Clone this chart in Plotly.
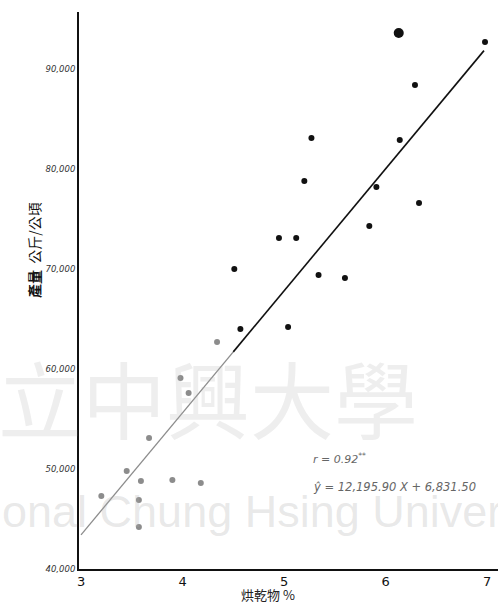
import plotly.graph_objects as go

# Dry matter (%) and yield (kg/ha) for each sample
dry_matter = [3.20, 3.45, 3.57, 3.57, 3.59, 3.67, 3.90, 3.98, 4.06, 4.18, 4.34,
              4.57, 4.51, 5.04, 4.95, 5.12, 5.20, 5.27, 5.34, 5.60, 5.84, 5.91,
              6.14, 6.13, 6.29, 6.33, 6.98]
yield_kg = [47300, 49800, 46900, 44200, 48800, 53100, 48900, 59100, 57600, 48600, 62700,
            64000, 70000, 64200, 73100, 73100, 78800, 83100, 69400, 69100, 74300, 78200,
            82900, 93600, 88400, 76600, 92700]

# Regression fit
slope = 12195.90
intercept = 6831.50
r_value = 0.92

y_ticks = [40000, 50000, 60000, 70000, 80000, 90000]
y_tick_text = ["40,000", "50,000", "60,000", "70,000", "80,000", "90,000"]
x_ticks = [3, 4, 5, 6, 7]

faded = "#8c8c8c"
ink = "#111111"


def px_x(p):
    """Horizontal pixel -> paper coordinate."""
    return (p - 79) / 419


def px_y(p):
    """Vertical pixel -> paper coordinate."""
    return (569 - p) / 557


fig = go.Figure()

# library watermark (very light)
fig.add_annotation(text="立中興大學", xref="paper", yref="paper",
                   x=px_x(-4), y=px_y(396), xanchor="left", yanchor="middle",
                   showarrow=False, font=dict(family="Noto Sans CJK TC", size=84,
                                              color="rgba(170,170,170,0.2)"))
fig.add_annotation(text="onal Chung Hsing Univer", xref="paper", yref="paper",
                   x=px_x(0), y=px_y(511), xanchor="left", yanchor="middle",
                   showarrow=False, font=dict(family="Liberation Sans", size=45,
                                              color="rgba(170,170,170,0.27)"))

# regression line: faded lower part, dark upper part
x_break = 4.5
x_end = 6.97
fig.add_trace(go.Scatter(x=[3, x_break], y=[slope * 3 + intercept, slope * x_break + intercept],
                         mode="lines", line=dict(color=faded, width=1.3), hoverinfo="skip"))
fig.add_trace(go.Scatter(x=[x_break, x_end], y=[slope * x_break + intercept, slope * x_end + intercept],
                         mode="lines", line=dict(color=ink, width=1.6), hoverinfo="skip"))

colors = [faded if x < x_break and y < 63500 else ink for x, y in zip(dry_matter, yield_kg)]
sizes = [6] * len(dry_matter)
sizes[23] = 10
fig.add_trace(go.Scatter(x=dry_matter, y=yield_kg, mode="markers",
                         marker=dict(color=colors, size=sizes, opacity=1, line=dict(width=0))))

hand = dict(family="DejaVu Sans", color="#666666")
fig.add_annotation(text=f"<i>r = {r_value:.2f}<sup>**</sup></i>", x=5.27, y=51100, xanchor="left",
                   yanchor="middle", showarrow=False, font=dict(size=11, **hand))
fig.add_annotation(text=f"<i>ŷ = {slope:,.2f} X + {intercept:,.2f}</i>", x=5.27, y=48200,
                   xanchor="left", yanchor="middle", showarrow=False, font=dict(size=11.5, **hand))

# axis titles
fig.add_annotation(text="<b>產量</b>  公斤/公頃", xref="paper", yref="paper",
                   x=px_x(22), y=px_y(250), textangle=-90,
                   showarrow=False, font=dict(family="Noto Sans CJK TC", size=14, color=ink))
fig.add_annotation(text="烘乾物 %", xref="paper", yref="paper",
                   x=px_x(268), y=px_y(594), yanchor="middle",
                   showarrow=False, font=dict(family="Noto Sans CJK TC", size=13, color="#222"))

fig.update_layout(
    width=498, height=606,
    margin=dict(l=79, r=0, t=12, b=37),
    paper_bgcolor="white", plot_bgcolor="white",
    showlegend=False,
)
fig.update_xaxes(range=[2.98, 7.108], tickvals=x_ticks, ticks="", showgrid=False, zeroline=False,
                 showline=True, linecolor=ink, linewidth=1.5,
                 tickfont=dict(family="DejaVu Sans", size=13, color=ink))
fig.update_yaxes(range=[40000, 95700], tickvals=y_ticks, ticktext=[f"<i>{t}</i>" for t in y_tick_text],
                 ticks="", showgrid=False, zeroline=False,
                 showline=True, linecolor=ink, linewidth=2,
                 tickfont=dict(family="DejaVu Sans", size=8.5, color="#333"))

fig.write_html("out.html")
